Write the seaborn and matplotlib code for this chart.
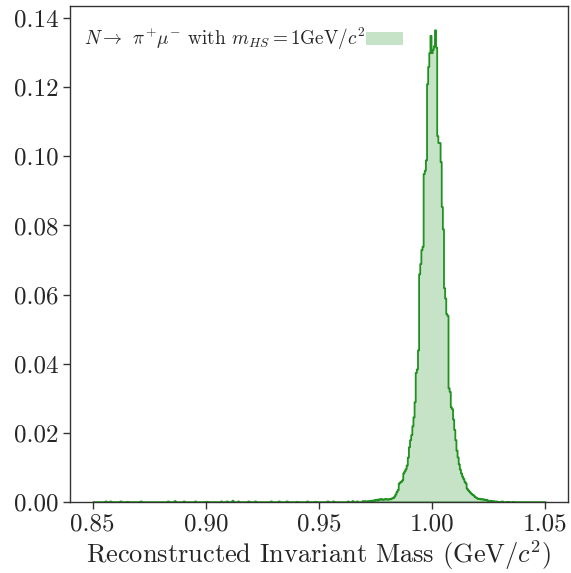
import numpy as np
import pandas as pd
import matplotlib
matplotlib.use("Agg")
import matplotlib.pyplot as plt
from matplotlib.patches import Patch
import seaborn as sns

# ---------------- data ----------------
hist_range = (0.85, 1.05)
n_bins = 400

# core region: consecutive bins starting at core_start
core_start = 0.9700
core_heights = [
    0.0004, 0.0000, 0.0003, 0.0004, 0.0003, 0.0005, 0.0004, 0.0006, 0.0005, 0.0007,
    0.0008, 0.0006, 0.0009, 0.0008, 0.0010, 0.0008, 0.0009, 0.0008, 0.0010, 0.0009,
    0.0008, 0.0010, 0.0009, 0.0011, 0.0012, 0.0013, 0.0017, 0.0023, 0.0030, 0.0036,
    0.0055, 0.0058, 0.0060, 0.0064, 0.0084, 0.0090, 0.0096, 0.0107, 0.0130, 0.0160,
    0.0180, 0.0195, 0.0220, 0.0246, 0.0290, 0.0375, 0.0385, 0.0440, 0.0660, 0.0690,
    0.0730, 0.0740, 0.0950, 0.0960, 0.0990, 0.1210, 0.1260, 0.1300, 0.1350, 0.1300,
    0.1310, 0.1320, 0.1366, 0.1316, 0.1060, 0.1040, 0.1040, 0.0985, 0.0855, 0.0790,
    0.0620, 0.0590, 0.0545, 0.0540, 0.0330, 0.0320, 0.0275, 0.0270, 0.0240, 0.0210,
    0.0180, 0.0150, 0.0130, 0.0110, 0.0095, 0.0084, 0.0075, 0.0068, 0.0060, 0.0055,
    0.0040, 0.0035, 0.0032, 0.0028, 0.0025, 0.0022, 0.0020, 0.0016, 0.0014, 0.0012,
    0.0010, 0.0011, 0.0009, 0.0010, 0.0008, 0.0009, 0.0007, 0.0008, 0.0006, 0.0005,
    0.0004, 0.0005, 0.0003, 0.0004, 0.0003, 0.0002, 0.0003, 0.0002, 0.0002, 0.0001,
]

# sparse tail entries
tail_mass = [0.8555, 0.8575, 0.8620, 0.8650, 0.8710, 0.8830, 0.8860, 0.8900,
             0.8950, 0.9000, 0.9065, 0.9090, 0.9115, 0.9140, 0.9185, 0.9215,
             0.9285, 0.9320, 0.9355, 0.9400, 0.9450, 0.9480, 0.9535, 0.9560,
             0.9625, 0.9645, 0.9665, 0.9690, 1.0310, 1.0330, 1.0355]
tail_heights = [0.0003, 0.0003, 0.0003, 0.0002, 0.0003, 0.0003, 0.0004, 0.0003,
                0.0003, 0.0002, 0.0003, 0.0003, 0.0005, 0.0003, 0.0003, 0.0003,
                0.0003, 0.0003, 0.0003, 0.0002, 0.0003, 0.0002, 0.0003, 0.0003,
                0.0003, 0.0004, 0.0003, 0.0004, 0.0003, 0.0002, 0.0002]

legend_label = r"$N\rightarrow\;\,\pi^{+}\mu^{-}$ with $m_{HS}=1$GeV$/c^2$"
x_label = r"Reconstructed Invariant Mass (GeV$/c^2$)"

# ---------------- build table ----------------
bw = (hist_range[1] - hist_range[0]) / n_bins
core_mass = core_start + bw * (np.arange(len(core_heights)) + 0.5)
df = pd.DataFrame({
    "mass": np.concatenate([core_mass, np.array(tail_mass)]),
    "weight": np.concatenate([np.array(core_heights), np.array(tail_heights)]),
})

# ---------------- style ----------------
sns.set_style("ticks")
plt.rcParams["font.family"] = ["cmr10", "DejaVu Serif"]
plt.rcParams["mathtext.fontset"] = "cm"
plt.rcParams["axes.formatter.use_mathtext"] = True
plt.rcParams["axes.unicode_minus"] = False

fig = plt.figure(figsize=(5.71, 5.73), dpi=100)
ax = fig.add_axes([70 / 571, 1 - 502 / 573, (568 - 70) / 571, (502 - 6) / 573])

fill_color = (0.0, 0.5, 0.0, 0.22)
line_color = (0.0, 0.5, 0.0, 0.85)

sns.histplot(data=df, x="mass", weights="weight",
             binwidth=bw, binrange=hist_range,
             element="step", fill=True, stat="count",
             facecolor=fill_color, edgecolor=line_color, linewidth=1.3,
             ax=ax)

ax.set_xlim(0.84, 1.06)
ax.set_ylim(0, 0.1435)
ax.set_xticks([0.85, 0.90, 0.95, 1.00, 1.05])
ax.set_yticks(np.arange(0, 0.141, 0.02))
ax.set_xticklabels(["0.85", "0.90", "0.95", "1.00", "1.05"])
ax.set_yticklabels(["0.00", "0.02", "0.04", "0.06", "0.08", "0.10", "0.12", "0.14"])
ax.tick_params(axis="both", labelsize=18, length=5, width=1.0, color="#333333")
ax.set_xlabel(x_label, fontsize=19, labelpad=2)
ax.set_ylabel("")
for s in ax.spines.values():
    s.set_visible(True)
    s.set_linewidth(1.0)
    s.set_color("#333333")

handle = Patch(facecolor=fill_color, edgecolor="none")
ax.legend([handle], [legend_label], loc="upper left", frameon=False,
          bbox_to_anchor=(0.012, 0.975), borderaxespad=0.0,
          markerfirst=False, fontsize=13.8, handlelength=1.95,
          handletextpad=0.05)

fig.savefig("out.png", dpi=100)
